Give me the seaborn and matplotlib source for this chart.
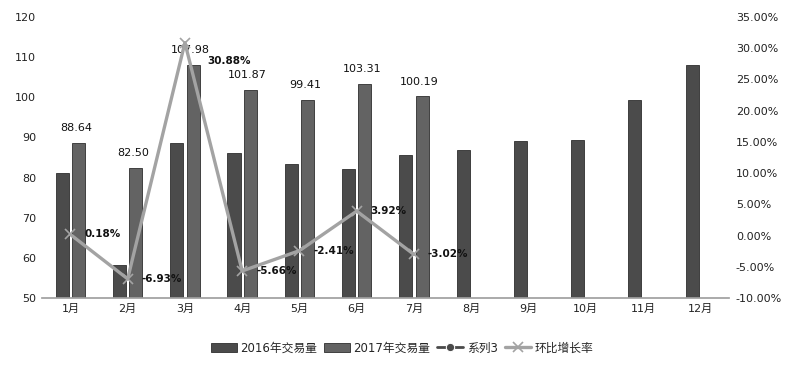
import numpy as np
import pandas as pd
import matplotlib
matplotlib.use("Agg")
import matplotlib.pyplot as plt
import seaborn as sns
from matplotlib.ticker import FuncFormatter, MultipleLocator

months = ["1月", "2月", "3月", "4月", "5月", "6月", "7月", "8月", "9月", "10月", "11月", "12月"]
vol_2016 = [81.1, 58.2, 88.5, 86.0, 83.4, 82.1, 85.6, 86.9, 89.1, 89.4, 99.3, 108.0]
vol_2017 = [88.64, 82.50, 107.98, 101.87, 99.41, 103.31, 100.19]
growth = [0.18, -6.93, 30.88, -5.66, -2.41, 3.92, -3.02]  # percent
series3 = [np.nan] * 12
series_names = ["2016年交易量", "2017年交易量", "系列3", "环比增长率"]

sns.set_theme(style="white")
plt.rcParams["font.family"] = ["DejaVu Sans", "Noto Sans CJK SC"]

rows = []
for m, v in zip(months, vol_2016):
    rows.append({"month": m, "value": v, "series": series_names[0]})
for m, v in zip(months, vol_2017):
    rows.append({"month": m, "value": v, "series": series_names[1]})
df = pd.DataFrame(rows)

fig = plt.figure(figsize=(7.88, 3.68), dpi=100)
ax = fig.add_subplot(111)
fig.subplots_adjust(left=0.053, right=0.925, top=0.954, bottom=0.19)

palette = {series_names[0]: "#4b4b4b", series_names[1]: "#636363"}
sns.barplot(data=df, x="month", y="value", hue="series", order=months,
            hue_order=series_names[:2], palette=palette, width=0.57, gap=0.2,
            edgecolor="#2e2e2e", linewidth=0.6, saturation=1, ax=ax, legend=False)

idx = np.arange(len(months))
sns.lineplot(x=idx, y=series3, ax=ax, color="#4a4a4a", marker="o", linewidth=2,
             label=series_names[2], legend=False)

ax.set_ylim(50, 120)
ax.yaxis.set_major_locator(MultipleLocator(10))
ax.set_xlim(-0.5, 11.5)
ax.set_xlabel("")
ax.set_ylabel("")
for s in ["top", "left", "right"]:
    ax.spines[s].set_visible(False)
ax.spines["bottom"].set_color("#a0a0a0")
ax.tick_params(axis="both", length=0, labelsize=8, colors="#222222", pad=4)

# labels over 2017 bars
cont2017 = ax.containers[1]
for bar, v in zip(cont2017, vol_2017):
    ax.annotate(f"{v:.2f}", (bar.get_x() + bar.get_width() / 2, bar.get_height()),
                xytext=(-2, 7), textcoords="offset points", ha="center", va="bottom",
                fontsize=8, color="#111111")

ax2 = ax.twinx()
gx = idx[:len(growth)]
sns.lineplot(x=gx, y=np.array(growth) / 100, ax=ax2, color="#a3a3a3", linewidth=2.4,
             marker="x", markersize=7, markeredgewidth=1.2, markeredgecolor="#a3a3a3",
             label=series_names[3], legend=False)
ax2.set_ylim(-0.10, 0.35)
ax2.yaxis.set_major_locator(MultipleLocator(0.05))
ax2.yaxis.set_major_formatter(FuncFormatter(lambda v, p: f"{v*100:.2f}%"))
for s in ["top", "left", "right", "bottom"]:
    ax2.spines[s].set_visible(False)
ax2.tick_params(axis="y", length=0, labelsize=8, colors="#222222", pad=5)
ax2.set_ylabel("")
peak = int(np.argmax(growth))
for i, (x, g) in enumerate(zip(gx, growth)):
    off = (16, -13) if i == peak else (10, 0)
    ax2.annotate(f"{g:.2f}%", (x, g / 100), xytext=off, textcoords="offset points",
                 ha="left", va="center", fontsize=7.5, fontweight="bold", color="#111111")

h1 = [plt.Rectangle((0, 0), 1, 1, fc=palette[n], ec="#2e2e2e", lw=0.6) for n in series_names[:2]]
h3, _ = ax.get_legend_handles_labels()
h4, _ = ax2.get_legend_handles_labels()
fig.legend(h1 + h3 + h4, series_names, loc="center", bbox_to_anchor=(0.51, 0.054),
           ncol=4, frameon=False, fontsize=8.5, handlelength=2.2, columnspacing=0.6,
           handletextpad=0.3)

fig.savefig("out.png", dpi=100)
